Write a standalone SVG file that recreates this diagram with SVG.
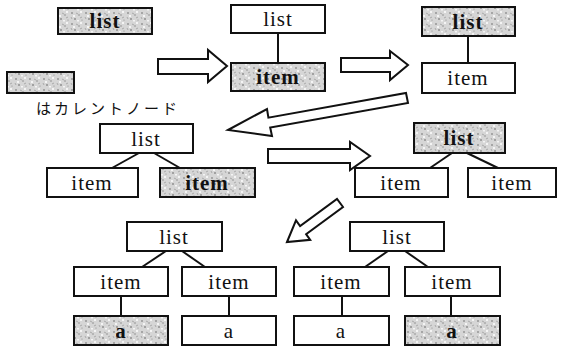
<svg xmlns="http://www.w3.org/2000/svg" width="562" height="348" viewBox="0 0 562 348" font-family="'Liberation Serif', 'DejaVu Serif', serif">
<defs>
<pattern id="speckle" width="14" height="11" patternUnits="userSpaceOnUse">
<rect width="14" height="11" fill="#d6d6d6"/>
<circle cx="2" cy="2" r="0.8" fill="#6a6a6a"/>
<circle cx="9" cy="4" r="0.7" fill="#7a7a7a"/>
<circle cx="5" cy="8" r="0.8" fill="#5e5e5e"/>
<circle cx="12" cy="9" r="0.6" fill="#888"/>
<path d="M6 2 l2 1 M10 7 l2 -1 M1 6 l1 2" stroke="#8a8a8a" stroke-width="0.6"/>
<rect x="3" y="4" width="2" height="2" fill="#f4f4f4"/>
<rect x="10" y="0" width="2" height="2" fill="#f4f4f4"/>
<rect x="7" y="9" width="2" height="1.5" fill="#f4f4f4"/>
</pattern>
<style>
.box{fill:#fff;stroke:#111;stroke-width:2}
.cur{fill:url(#speckle);stroke:#111;stroke-width:2}
.t{font-family:'Liberation Serif','DejaVu Serif',serif;font-size:21px;fill:#111;text-anchor:middle;letter-spacing:1px}
.b{font-weight:bold}
.ln{stroke:#111;stroke-width:2;fill:none}
.arr{fill:#fff;stroke:#111;stroke-width:2;stroke-linejoin:miter}
.jp{font-family:'Noto Sans CJK JP','Noto Sans',sans-serif;font-size:15px;fill:#111;letter-spacing:3px}
</style>
</defs>

<g id="legend">
<rect class="cur" x="58" y="8" width="94" height="26"/>
<text class="t b" x="105" y="28">list</text>
<rect class="cur" x="7" y="72" width="67" height="21"/>
<text class="jp" x="36" y="114">はカレントノード</text>
</g>

<g id="connectors">
<line class="ln" x1="278" y1="33" x2="278" y2="63"/>
<line class="ln" x1="468" y1="36" x2="468" y2="63"/>
<line class="ln" x1="139" y1="153" x2="112" y2="168"/>
<line class="ln" x1="154" y1="153" x2="180" y2="168"/>
<line class="ln" x1="452" y1="153" x2="430" y2="168"/>
<line class="ln" x1="467" y1="153" x2="498" y2="168"/>
<line class="ln" x1="166" y1="251" x2="142" y2="267"/>
<line class="ln" x1="182" y1="251" x2="205" y2="267"/>
<line class="ln" x1="121" y1="296" x2="121" y2="316"/>
<line class="ln" x1="229" y1="296" x2="229" y2="316"/>
<line class="ln" x1="388" y1="251" x2="365" y2="267"/>
<line class="ln" x1="405" y1="251" x2="428" y2="267"/>
<line class="ln" x1="342" y1="296" x2="342" y2="316"/>
<line class="ln" x1="451" y1="296" x2="451" y2="316"/>
</g>

<g id="arrows">
<polygon class="arr" points="158,59 208,59 208,50 227,66 208,82 208,74 158,74"/>
<polygon class="arr" points="341,58 390,58 390,51 408,65 390,80 390,72 341,72"/>
<polygon class="arr" points="228,130 267,109 268.4,117.7 406,93 408,103 270.2,127.5 272,136"/>
<polygon class="arr" points="268,149 350,149 350,142 370,156 350,170 350,163 268,163"/>
<polygon class="arr" points="287,242 296,220.4 300.1,226.1 337,199 343,207 306.1,234.1 310.2,239.8"/>
</g>

<g id="s1-list"><rect class="box" x="231" y="5" width="94" height="28"/><text class="t" x="278" y="26">list</text></g>
<g id="s1-item"><rect class="cur" x="231" y="63" width="94" height="28"/><text class="t b" x="278" y="84">item</text></g>

<g id="s2-list"><rect class="cur" x="422" y="7" width="93" height="29"/><text class="t b" x="468" y="29">list</text></g>
<g id="s2-item"><rect class="box" x="422" y="63" width="93" height="30"/><text class="t" x="468" y="85">item</text></g>

<g id="s3-list"><rect class="box" x="100" y="124" width="93" height="29"/><text class="t" x="146" y="146">list</text></g>
<g id="s3-item1"><rect class="box" x="47" y="168" width="91" height="29"/><text class="t" x="92" y="190">item</text></g>
<g id="s3-item2"><rect class="cur" x="160" y="168" width="95" height="29"/><text class="t b" x="207" y="190">item</text></g>

<g id="s4-list"><rect class="cur" x="414" y="123" width="91" height="30"/><text class="t b" x="459" y="145">list</text></g>
<g id="s4-item1"><rect class="box" x="355" y="168" width="93" height="29"/><text class="t" x="401" y="190">item</text></g>
<g id="s4-item2"><rect class="box" x="468" y="168" width="88" height="29"/><text class="t" x="512" y="190">item</text></g>

<g id="s5-list"><rect class="box" x="127" y="222" width="95" height="29"/><text class="t" x="174" y="244">list</text></g>
<g id="s5-item1"><rect class="box" x="74" y="267" width="94" height="29"/><text class="t" x="121" y="289">item</text></g>
<g id="s5-item2"><rect class="box" x="182" y="267" width="94" height="29"/><text class="t" x="229" y="289">item</text></g>
<g id="s5-a1"><rect class="cur" x="74" y="316" width="94" height="29"/><text class="t b" x="121" y="338">a</text></g>
<g id="s5-a2"><rect class="box" x="182" y="316" width="94" height="29"/><text class="t" x="229" y="338">a</text></g>

<g id="s6-list"><rect class="box" x="350" y="222" width="94" height="29"/><text class="t" x="397" y="244">list</text></g>
<g id="s6-item1"><rect class="box" x="294" y="267" width="95" height="29"/><text class="t" x="341" y="289">item</text></g>
<g id="s6-item2"><rect class="box" x="405" y="267" width="95" height="29"/><text class="t" x="452" y="289">item</text></g>
<g id="s6-a1"><rect class="box" x="294" y="316" width="95" height="29"/><text class="t" x="341" y="338">a</text></g>
<g id="s6-a2"><rect class="cur" x="405" y="316" width="95" height="29"/><text class="t b" x="452" y="338">a</text></g>
</svg>
